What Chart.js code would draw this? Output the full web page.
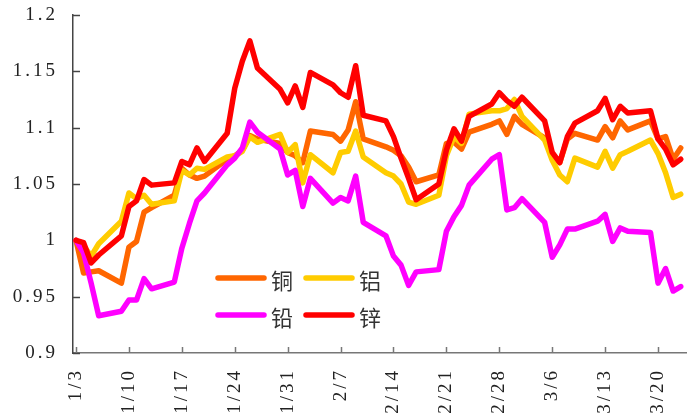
<!DOCTYPE html>
<html>
<head>
<meta charset="utf-8">
<script src="https://cdn.jsdelivr.net/npm/chart.js@4.4.1/dist/chart.umd.min.js"></script>
<style>
  html, body { margin: 0; padding: 0; background: #fff; }
  canvas { display: block; }
</style>
</head>
<body>
<canvas id="c" width="695" height="418"></canvas>
<script>
// Trading days (2012), one value per day for each metal, indexed to 1/3 = 1
const tradingDays = [
  '2012-01-03','2012-01-04','2012-01-05','2012-01-06',
  '2012-01-09','2012-01-10','2012-01-11','2012-01-12','2012-01-13',
  '2012-01-16','2012-01-17','2012-01-18','2012-01-19','2012-01-20',
  '2012-01-23','2012-01-24','2012-01-25','2012-01-26','2012-01-27',
  '2012-01-30','2012-01-31','2012-02-01','2012-02-02','2012-02-03',
  '2012-02-06','2012-02-07','2012-02-08','2012-02-09','2012-02-10',
  '2012-02-13','2012-02-14','2012-02-15','2012-02-16','2012-02-17',
  '2012-02-20','2012-02-21','2012-02-22','2012-02-23','2012-02-24',
  '2012-02-27','2012-02-28','2012-02-29','2012-03-01','2012-03-02',
  '2012-03-05','2012-03-06','2012-03-07','2012-03-08','2012-03-09',
  '2012-03-12','2012-03-13','2012-03-14','2012-03-15','2012-03-16',
  '2012-03-19','2012-03-20','2012-03-21','2012-03-22','2012-03-23'
];

const tickDates = [
  '2012-01-03','2012-01-10','2012-01-17','2012-01-24','2012-01-31','2012-02-07',
  '2012-02-14','2012-02-21','2012-02-28','2012-03-06','2012-03-13','2012-03-20'
];

const yTicks = [0.9, 0.95, 1, 1.05, 1.1, 1.15, 1.2];

const seriesNames = ['铜', '铝', '铅', '锌'];

const copper = [
  1.000, 0.971, 0.972, 0.973,
  0.962, 0.994, 0.999, 1.025, 1.029,
  1.040, 1.064, 1.058, 1.055, 1.057,
  1.072, 1.075, 1.080, 1.093, 1.090,
  1.086, 1.078, 1.075, 1.069, 1.097,
  1.094, 1.088, 1.098, 1.123, 1.090,
  1.083, 1.080, 1.075, 1.065, 1.052,
  1.058, 1.086, 1.087, 1.081, 1.096,
  1.103, 1.106, 1.094, 1.110, 1.103,
  1.091, 1.076, 1.069, 1.090, 1.095,
  1.089, 1.101, 1.091, 1.106, 1.098,
  1.106, 1.090, 1.092, 1.072, 1.082
];

const aluminium = [
  1.000, 0.995, 0.986, 0.997,
  1.017, 1.042, 1.037, 1.040, 1.032,
  1.035, 1.062, 1.058, 1.064, 1.063,
  1.074, 1.075, 1.079, 1.092, 1.087,
  1.094, 1.078, 1.085, 1.051, 1.076,
  1.060, 1.078, 1.079, 1.097, 1.074,
  1.060, 1.057, 1.050, 1.034, 1.032,
  1.040, 1.075, 1.092, 1.086, 1.112,
  1.115, 1.115, 1.117, 1.125, 1.110,
  1.089, 1.071, 1.058, 1.052, 1.073,
  1.065, 1.079, 1.064, 1.076, 1.079,
  1.089, 1.077, 1.060, 1.038, 1.041
];

const lead = [
  1.000, 0.989, 0.962, 0.933,
  0.937, 0.947, 0.947, 0.966, 0.957,
  0.963, 0.993, 1.015, 1.035, 1.042,
  1.067, 1.073, 1.082, 1.105, 1.096,
  1.081, 1.058, 1.062, 1.030, 1.055,
  1.033, 1.038, 1.035, 1.057, 1.016,
  1.004, 0.986, 0.978, 0.960, 0.972,
  0.974, 1.008, 1.021, 1.031, 1.049,
  1.072, 1.076, 1.027, 1.029, 1.037,
  1.016, 0.985, 0.996, 1.010, 1.010,
  1.017, 1.023, 0.999, 1.011, 1.008,
  1.007, 0.962, 0.975, 0.955, 0.959
];

const zinc = [
  1.000, 0.998, 0.980, 0.987,
  1.004, 1.030, 1.035, 1.054, 1.049,
  1.051, 1.070, 1.067, 1.082, 1.070,
  1.095, 1.135, 1.159, 1.177, 1.153,
  1.134, 1.122, 1.137, 1.118, 1.149,
  1.138, 1.131, 1.127, 1.155, 1.111,
  1.106, 1.092, 1.073, 1.055, 1.036,
  1.050, 1.080, 1.099, 1.088, 1.110,
  1.121, 1.131, 1.124, 1.119, 1.127,
  1.106, 1.078, 1.069, 1.092, 1.104,
  1.115, 1.126, 1.107, 1.119, 1.113,
  1.115, 1.090, 1.081, 1.067, 1.072
];

const colors = ['#FF6600', '#FFCC00', '#FF00FF', '#FF0000'];

// Days elapsed since the first trading day
const START = Date.UTC(2012, 0, 3);
function dayOffset(iso) {
  const [y, m, d] = iso.split('-').map(Number);
  return Math.round((Date.UTC(y, m - 1, d) - START) / 86400000);
}
function shortLabel(iso) {
  const [, m, d] = iso.split('-').map(Number);
  return m + '/' + d;
}
const toPoints = vals => vals.map((v, i) => ({ x: dayOffset(tradingDays[i]), y: v }));
const tickValues = tickDates.map(dayOffset);
const tickLabelFor = {};
tickDates.forEach(s => { tickLabelFor[dayOffset(s)] = shortLabel(s); });

const LABEL_FONT = { family: 'Liberation Serif', size: 19 };

// Wide spacing on axis labels; off again before series and legend
const spacing = {
  id: 'spacing',
  beforeLayout(chart) { chart.ctx.letterSpacing = '3px'; },
  beforeDraw(chart) { chart.ctx.letterSpacing = '3px'; },
  beforeDatasetsDraw(chart) { chart.ctx.letterSpacing = '0px'; }
};

// Short tick marks pointing into the plot area
const innerTicks = {
  id: 'innerTicks',
  beforeDatasetsDraw(chart) {
    const { ctx, scales: { x, y } } = chart;
    ctx.save();
    ctx.lineWidth = 1.5;
    ctx.strokeStyle = '#444';
    y.ticks.forEach(t => {
      const py = Math.round(y.getPixelForValue(t.value)) + 0.5;
      ctx.beginPath(); ctx.moveTo(y.right, py); ctx.lineTo(y.right + 7, py); ctx.stroke();
    });
    ctx.strokeStyle = '#777';
    x.ticks.forEach(t => {
      const px = Math.round(x.getPixelForValue(t.value)) + 0.5;
      ctx.beginPath(); ctx.moveTo(px, x.top); ctx.lineTo(px, x.top - 6); ctx.stroke();
    });
    ctx.restore();
  }
};

// Two-column legend drawn inside the plot
const innerLegend = {
  id: 'innerLegend',
  afterDraw(chart) {
    const { ctx, chartArea } = chart;
    ctx.save();
    ctx.letterSpacing = '0px';
    ctx.font = '22px "Noto Sans CJK SC"';
    ctx.textBaseline = 'middle';
    ctx.textAlign = 'left';
    chart.data.datasets.forEach((ds, i) => {
      const col = i % 2, row = Math.floor(i / 2);
      const x0 = chartArea.left + 142 + col * 88;
      const y0 = chartArea.top + 263 + row * 37;
      ctx.strokeStyle = ds.borderColor;
      ctx.lineWidth = 5.5;
      ctx.lineCap = 'round';
      ctx.beginPath(); ctx.moveTo(x0 + 3, y0); ctx.lineTo(x0 + 49, y0); ctx.stroke();
      ctx.fillStyle = '#333';
      ctx.fillText(ds.label, x0 + 56, y0 + 3);
    });
    ctx.restore();
  }
};

const seriesValues = [copper, aluminium, lead, zinc];

new Chart(document.getElementById('c'), {
  type: 'line',
  data: {
    datasets: seriesValues.map((vals, i) => ({
      label: seriesNames[i],
      data: toPoints(vals),
      borderColor: colors[i],
      backgroundColor: colors[i],
      borderWidth: 5.5,
      pointRadius: 0,
      tension: 0,
      borderJoinStyle: 'round',
      borderCapStyle: 'round',
      order: seriesNames.length - i
    }))
  },
  options: {
    responsive: false,
    animation: false,
    events: [],
    layout: { padding: { top: 15, right: 9, left: 0, bottom: 0 } },
    plugins: { legend: { display: false }, tooltip: { enabled: false } },
    scales: {
      x: {
        type: 'linear',
        min: -0.4,
        max: 80.7,
        afterFit(scale) {
          scale.height = 65;
          scale.paddingLeft = 0;
          scale.paddingRight = 0;
        },
        afterBuildTicks(scale) { scale.ticks = tickValues.map(v => ({ value: v })); },
        grid: { display: false, drawTicks: false },
        border: { display: true, color: '#777', width: 1.5 },
        ticks: {
          autoSkip: false,
          minRotation: 90,
          maxRotation: 90,
          padding: 15,
          color: '#222',
          font: LABEL_FONT,
          callback: v => tickLabelFor[v] || ''
        }
      },
      y: {
        min: 0.9,
        max: 1.2,
        afterFit(scale) {
          scale.width = 73;
          scale.paddingTop = 0;
          scale.paddingBottom = 0;
        },
        afterBuildTicks(scale) { scale.ticks = yTicks.map(v => ({ value: v })); },
        grid: { display: false, drawTicks: false },
        border: { display: true, color: '#444', width: 1.5 },
        ticks: {
          padding: 15,
          color: '#222',
          font: LABEL_FONT,
          callback: v => String(Number(v.toFixed(2)))
        }
      }
    }
  },
  plugins: [spacing, innerTicks, innerLegend]
});
</script>
</body>
</html>
